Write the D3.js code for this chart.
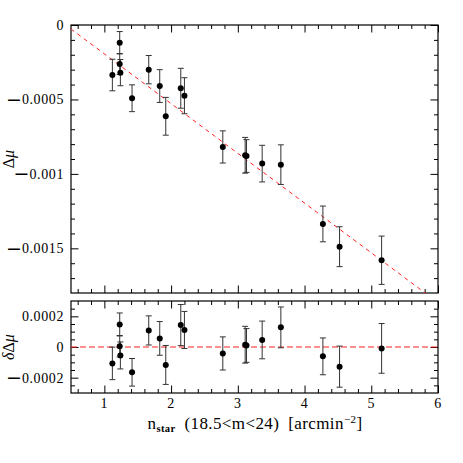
<!DOCTYPE html>
<html lang="en">
  <head>
    <meta charset="utf-8" />
    <title>Delta mu vs n_star</title>
    <script src="https://d3js.org/d3.v7.min.js"></script>
    <style>
      body { margin: 0; background: #fff; }
      svg { display: block; font-family: "Liberation Serif", "DejaVu Serif", serif; }
      .tick-label { font-size: 14px; letter-spacing: 0.6px; fill: #000; }
      .minus { font-family: "DejaVu Sans", sans-serif; font-size: 19px; letter-spacing: 0; }
    </style>
  </head>
  <body>
    <div id="chart"></div>
    <script>
      // values
      const nstar = [1.12, 1.23, 1.23, 1.24, 1.415, 1.665, 1.83, 1.92, 2.145, 2.2,
                     2.775, 3.11, 3.13, 3.365, 3.645, 4.275, 4.525, 5.155];
      const dmu = [-0.000336, -0.000119, -0.000262, -0.00032, -0.000492, -0.0003,
                   -0.00041, -0.000613, -0.000425, -0.000475, -0.000819, -0.000875,
                   -0.00088, -0.000931, -0.000938, -0.001336, -0.001489, -0.00158];
      const dmuErr = [0.000106, 0.000075, 0.00007, 0.000088, 0.00009, 0.000095,
                      0.00011, 0.000127, 0.000134, 0.000121, 0.000108, 0.00012,
                      0.00011, 0.000123, 0.000133, 0.00012, 0.000134, 0.000162];
      const resid = [-0.000107, 0.000147, 0.000005, -0.000055, -0.000165, 0.000108,
                     0.000056, -0.000117, 0.000143, 0.000111, -0.000042, 0.000015,
                     0.00001, 0.000046, 0.000128, -0.000061, -0.000128, -0.000009];

      const fitIntercept = 0.00014;
      const fitSlope = -0.000334;

      const xTickValues = [1, 2, 3, 4, 5, 6];
      const xTickLabels = ["1", "2", "3", "4", "5", "6"];
      const topTickValues = [0, -0.0005, -0.001, -0.0015];
      const topTickLabels = ["0", "\u22120.0005", "\u22120.001", "\u22120.0015"];
      const botTickValues = [0.0002, 0, -0.0002];
      const botTickLabels = ["0.0002", "0", "\u22120.0002"];

      const width = 463, height = 463;
      const left = 71, right = 438;
      const majorLen = 7.5, minorLen = 4;

      const svg = d3.select("#chart").append("svg")
        .attr("width", width).attr("height", height);

      const x = d3.scaleLinear().domain([0.5, 6]).range([left, right]);
      const yTop = d3.scaleLinear().domain([-0.0018, 0]).range([293, 25]);
      const yBot = d3.scaleLinear().domain([-0.0003, 0.0003]).range([393, 301]);

      const xMinor = d3.range(0.6, 6, 0.2).filter(v => Math.abs(v - Math.round(v)) > 1e-6);

      // draws the frame with inward ticks on all four sides
      function panel(y, yMajor, yMinor, name) {
        const g = svg.append("g");
        const [y0, y1] = y.range();
        const h = y0 - y1;
        const addAxis = (axis, tf) => {
          const a = g.append("g").attr("transform", tf).call(axis);
          a.select(".domain").remove();
          a.selectAll("text").remove();
          a.selectAll("line").attr("stroke", "#000").attr("stroke-width", 1);
        };
        [[xTickValues, majorLen], [xMinor, minorLen]].forEach(([vals, len]) => {
          addAxis(d3.axisBottom(x).tickValues(vals).tickSize(-len), `translate(0,${y0})`);
          addAxis(d3.axisTop(x).tickValues(vals).tickSize(-len), `translate(0,${y1})`);
        });
        [[yMajor, majorLen], [yMinor, minorLen]].forEach(([vals, len]) => {
          addAxis(d3.axisLeft(y).tickValues(vals).tickSize(-len), `translate(${left},0)`);
          addAxis(d3.axisRight(y).tickValues(vals).tickSize(-len), `translate(${right},0)`);
        });
        g.append("rect")
          .attr("x", left).attr("y", y1)
          .attr("width", right - left).attr("height", h)
          .attr("fill", "none").attr("stroke", "#000").attr("stroke-width", 1.2);

        svg.append("clipPath").attr("id", "clip-" + name)
          .append("rect").attr("x", left).attr("y", y1)
          .attr("width", right - left).attr("height", h);
        return g;
      }

      const topMinor = d3.range(-17, 0).map(k => k * 0.0001).filter(v => Math.abs(v * 2000 - Math.round(v * 2000)) > 1e-6);
      const botMinor = d3.range(-5, 6).map(k => k * 0.00005).filter(v => Math.abs(v * 5000 - Math.round(v * 5000)) > 1e-6);

      panel(yTop, topTickValues, topMinor, "top");
      panel(yBot, botTickValues, botMinor, "bot");

      // fit line (top) and zero line (bottom)
      svg.append("line")
        .attr("clip-path", "url(#clip-top)")
        .attr("x1", x(0.5)).attr("y1", yTop(fitIntercept + fitSlope * 0.5))
        .attr("x2", x(6)).attr("y2", yTop(fitIntercept + fitSlope * 6))
        .attr("stroke", "#ff2020").attr("stroke-width", 1)
        .attr("stroke-dasharray", "4,4");
      svg.append("line")
        .attr("x1", x(0.5)).attr("y1", yBot(0))
        .attr("x2", x(6)).attr("y2", yBot(0))
        .attr("stroke", "#ff2020").attr("stroke-width", 1)
        .attr("stroke-dasharray", "6,3");

      const data = nstar.map((n, i) => ({ n, d: dmu[i], e: dmuErr[i], r: resid[i] }));
      const cap = 3;

      function points(y, key) {
        const g = svg.append("g");
        const eb = g.selectAll(".eb").data(data).enter().append("g")
          .attr("stroke", "#333").attr("stroke-width", 1);
        eb.append("line")
          .attr("x1", d => x(d.n)).attr("x2", d => x(d.n))
          .attr("y1", d => y(d[key] - d.e)).attr("y2", d => y(d[key] + d.e));
        eb.append("line")
          .attr("x1", d => x(d.n) - cap).attr("x2", d => x(d.n) + cap)
          .attr("y1", d => y(d[key] - d.e)).attr("y2", d => y(d[key] - d.e));
        eb.append("line")
          .attr("x1", d => x(d.n) - cap).attr("x2", d => x(d.n) + cap)
          .attr("y1", d => y(d[key] + d.e)).attr("y2", d => y(d[key] + d.e));
        g.selectAll("circle").data(data).enter().append("circle")
          .attr("cx", d => x(d.n)).attr("cy", d => y(d[key]))
          .attr("r", 3).attr("fill", "#000");
      }
      points(yTop, "d");
      points(yBot, "r");

      // y labels: the minus goes in its own tspan so it comes out long
      function yLabels(vals, labels, y) {
        const t = svg.selectAll(null).data(vals).enter().append("text")
          .attr("class", "tick-label")
          .attr("x", 64).attr("y", d => y(d) + 5)
          .attr("text-anchor", "end");
        t.each(function (d, i) {
          const s = labels[i];
          const el = d3.select(this);
          if (s.startsWith("\u2212")) {
            el.append("tspan").attr("class", "minus").attr("dy", 1.5).text("\u2212");
            el.append("tspan").attr("dy", -1.5).text(s.slice(1));
          } else {
            el.text(s);
          }
        });
      }

      svg.selectAll(".xl").data(xTickValues).enter().append("text")
        .attr("class", "tick-label")
        .attr("x", d => x(d)).attr("y", 408)
        .attr("text-anchor", "middle")
        .text((d, i) => xTickLabels[i]);
      yLabels(topTickValues, topTickLabels, yTop);
      yLabels(botTickValues, botTickLabels, yBot);

      // axis titles
      const xt = svg.append("text")
        .attr("x", 255).attr("y", 429)
        .attr("text-anchor", "middle")
        .style("font-size", "17px")
        .style("letter-spacing", "0.4px");
      xt.append("tspan").text("n");
      xt.append("tspan").attr("dy", 3).style("font-size", "10.5px").style("font-weight", "bold").text("star");
      xt.append("tspan").attr("dy", -3).text("\u2002(18.5<m<24)\u2002[arcmin");
      xt.append("tspan").attr("dy", -6).style("font-size", "11px").text("\u22122");
      xt.append("tspan").attr("dy", 6).text("]");

      svg.append("text")
        .attr("transform", `translate(14,${yTop(-0.0009)}) rotate(-90)`)
        .attr("text-anchor", "middle")
        .style("font-size", "16px")
        .html('\u0394<tspan font-style="italic">\u03bc</tspan>');
      svg.append("text")
        .attr("transform", `translate(14,${yBot(0)}) rotate(-90)`)
        .attr("text-anchor", "middle")
        .style("font-size", "16px")
        .html('<tspan font-style="italic">\u03b4</tspan>\u0394<tspan font-style="italic">\u03bc</tspan>');
    </script>
  </body>
</html>
